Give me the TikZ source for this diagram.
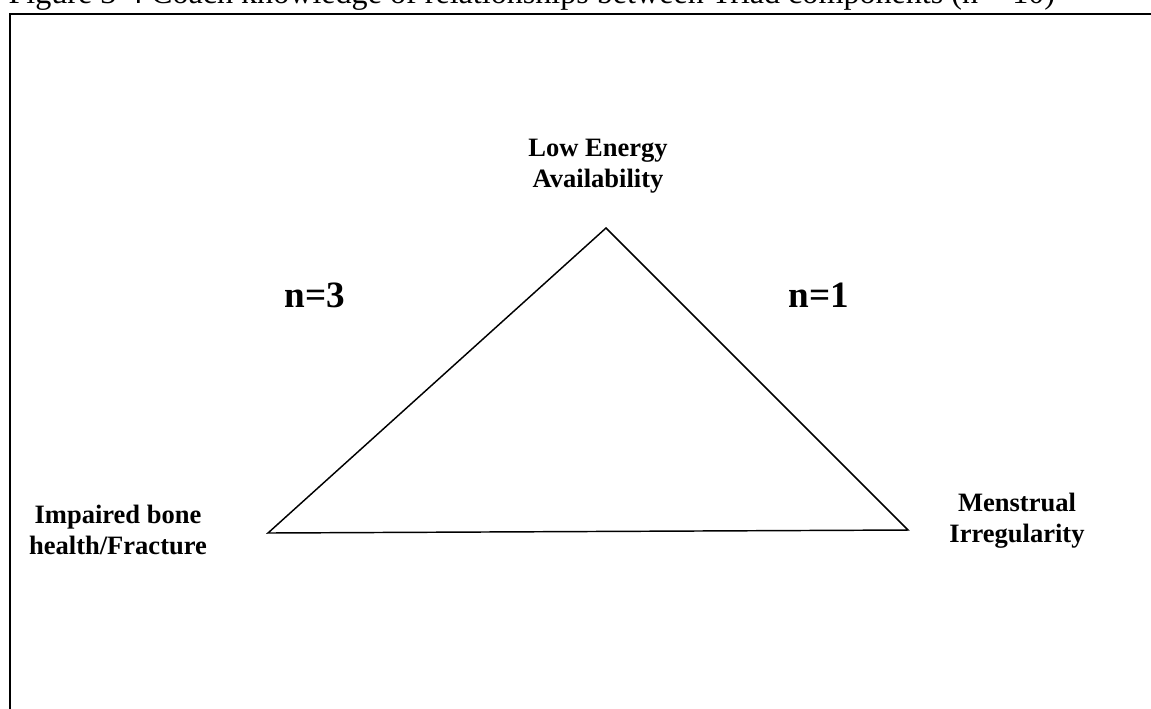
\documentclass[tikz,border=0pt]{standalone}
\usepackage{fontspec}
\setmainfont{Liberation Serif}
\usetikzlibrary{positioning}

\begin{document}
\begin{tikzpicture}[x=0.377pt,y=-0.377pt,
    lbl/.style={font=\fontsize{10}{11.5}\selectfont\bfseries,align=center,inner sep=0pt},
    cnt/.style={font=\fontsize{14}{16}\selectfont\bfseries,inner sep=0pt},
    tri/.style={line width=0.55pt,line join=miter}]
  \useasboundingbox (0,0) rectangle (1151,708);
  % caption, cut off at the top edge
  \node[anchor=base west,inner sep=0pt,font=\fontsize{12.1}{14}\selectfont] (cap) at (8,3)
    {Figure 3-4 Coach knowledge of relationships between Triad components (n = 10)};
  % frame
  \draw[line width=1pt] (10,760) -- (10,14) -- (1200,14);
  % triangle corners
  \coordinate (lea) at (606,228);
  \coordinate (bone) at (268,533);
  \coordinate (mens) at (908,530);
  \draw[tri] (lea) -- (mens) -- (bone) -- cycle;
  \node[lbl,anchor=north] (leaL) at (598,139) {Low Energy\\Availability};
  \node[lbl,anchor=north] (boneL) at (118,505) {Impaired bone\\health/Fracture};
  \node[lbl,anchor=north] (mensL) at (1017,493) {Menstrual\\Irregularity};
  \node[cnt] (nb) at (315,295) {n=3};
  \node[cnt] (nm) at (819,295) {n=1};
\end{tikzpicture}
\end{document}
